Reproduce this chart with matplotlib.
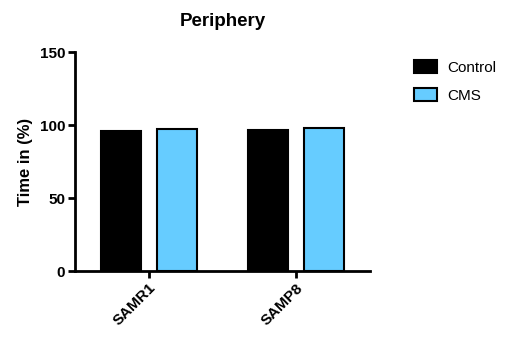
import matplotlib
matplotlib.use("Agg")
import matplotlib.pyplot as plt
import numpy as np
from matplotlib.patches import Patch

plt.rcParams['font.family'] = ['Liberation Sans', 'DejaVu Sans']

groups = ["SAMR1", "SAMP8"]
series_names = ["Control", "CMS"]
control_vals = [95.8, 96.6]
cms_vals = [97.4, 97.9]
control_err = [0.8, 0.4]
cms_err = [0.4, 0.4]
colors = ["#000000", "#66CCFF"]
y_ticks = [0, 50, 100, 150]

fig = plt.figure(figsize=(5.07, 3.38), dpi=100)
ax = fig.add_axes([0.148, 0.198, 0.582, 0.648])

x = np.arange(len(groups))
w = 0.27
offs = [-0.19, 0.19]
for vals, errs, col, off, name in zip([control_vals, cms_vals], [control_err, cms_err],
                                      colors, offs, series_names):
    ax.bar(x + off, vals, width=w, color=col, edgecolor="black", linewidth=1.5,
           yerr=errs, error_kw=dict(ecolor="black", elinewidth=1.2, capsize=0),
           label=name, zorder=2)

ax.set_xlim(-0.5, 1.5)
ax.set_ylim(0, 150)
ax.set_yticks(y_ticks)
ax.set_yticklabels([str(t) for t in y_ticks], fontsize=11, fontweight="bold")
ax.set_xticks(x)
ax.set_xticklabels(groups, rotation=45, ha="right", rotation_mode="anchor",
                   fontsize=11, fontweight="bold")
ax.tick_params(axis="both", direction="out", length=5, width=2, pad=2)
for s in ["top", "right"]:
    ax.spines[s].set_visible(False)
for s in ["left", "bottom"]:
    ax.spines[s].set_linewidth(2)

ax.set_ylabel("Time in (%)", fontsize=12, fontweight="bold", labelpad=5)
ax.set_title("Periphery", fontsize=13.5, fontweight="bold", pad=19)

handles = [Patch(facecolor=c, edgecolor="black", linewidth=1.5) for c in colors]
fig.legend(handles, series_names, loc="upper left", bbox_to_anchor=(0.789, 0.862),
           frameon=False, fontsize=11, handlelength=1.5, handleheight=0.9,
           handletextpad=0.7, labelspacing=0.85)

fig.savefig("out.png", dpi=100)
